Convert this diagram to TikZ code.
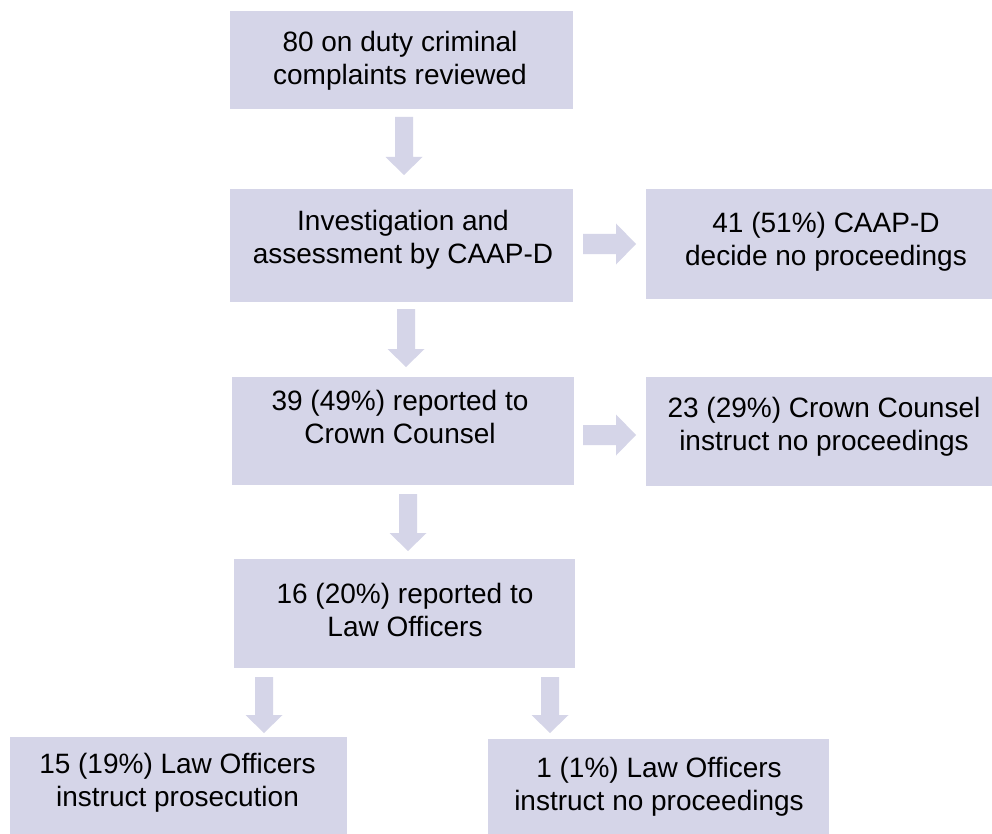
\documentclass[tikz,border=0pt]{standalone}
\usepackage{fontspec}
\setmainfont{Liberation Sans}
\definecolor{boxfill}{RGB}{213,213,232}
% block arrows: down (x centre, y top, y tip) and right (x left, x tip, y centre)
\newcommand\DownBlock[3]{%
  \fill[blockarrow] (#1-9,#2) -- (#1+9,#2) -- (#1+9,#3-18) -- (#1+18.5,#3-18)
    -- (#1,#3) -- (#1-18.5,#3-18) -- (#1-9,#3-18) -- cycle;}
\newcommand\RightBlock[3]{%
  \fill[blockarrow] (#1,#3-10) -- (#2-20,#3-10) -- (#2-20,#3-20.5) -- (#2,#3)
    -- (#2-20,#3+20.5) -- (#2-20,#3+10) -- (#1,#3+10) -- cycle;}
\begin{document}
\begin{tikzpicture}[x=1pt,y=-1pt,
  box/.style={rectangle, fill=boxfill, draw=none, inner sep=0pt, outer sep=0pt},
  txt/.style={anchor=north, inner sep=0pt, align=center, text=black,
    font=\fontsize{28}{33}\selectfont},
  blockarrow/.style={fill=boxfill, draw=none}]
\useasboundingbox (0,0) rectangle (992,834);
\fill[white] (0,0) rectangle (992,834);
% boxes
\node[box, minimum width=343pt, minimum height=98pt]  (b1) at (401.5,60) {};
\node[box, minimum width=343pt, minimum height=113pt] (b2) at (401.5,245.5) {};
\node[box, minimum width=346pt, minimum height=110pt] (b3) at (819,244) {};
\node[box, minimum width=342pt, minimum height=108pt] (b4) at (403,431) {};
\node[box, minimum width=346pt, minimum height=109pt] (b5) at (819,431.5) {};
\node[box, minimum width=341pt, minimum height=109pt] (b6) at (404.5,613.5) {};
\node[box, minimum width=337pt, minimum height=97pt]  (b7) at (178.5,785.5) {};
\node[box, minimum width=341pt, minimum height=95pt]  (b8) at (658.5,786.5) {};
% texts
\node[txt] (t1) at (400,31)  {80 on duty criminal\\complaints reviewed};
\node[txt] (t2) at (403,210) {Investigation and\\assessment by CAAP-D};
\node[txt] (t3) at (826,212) {41 (51\%) CAAP-D\\decide no proceedings};
\node[txt] (t4) at (400,390) {39 (49\%) reported to\\Crown Counsel};
\node[txt] (t5) at (824,397) {23 (29\%) Crown Counsel\\instruct no proceedings};
\node[txt] (t6) at (405,583) {16 (20\%) reported to\\Law Officers};
\node[txt] (t7) at (177.5,753) {15 (19\%) Law Officers\\instruct prosecution};
\node[txt] (t8) at (659,757) {1 (1\%) Law Officers\\instruct no proceedings};
% block arrows
\DownBlock{404}{117}{175}
\DownBlock{406}{309}{367}
\DownBlock{408}{494}{551}
\DownBlock{264}{677}{733}
\DownBlock{550}{677}{733}
\RightBlock{583}{636}{244}
\RightBlock{583}{636}{435}
\end{tikzpicture}
\end{document}
